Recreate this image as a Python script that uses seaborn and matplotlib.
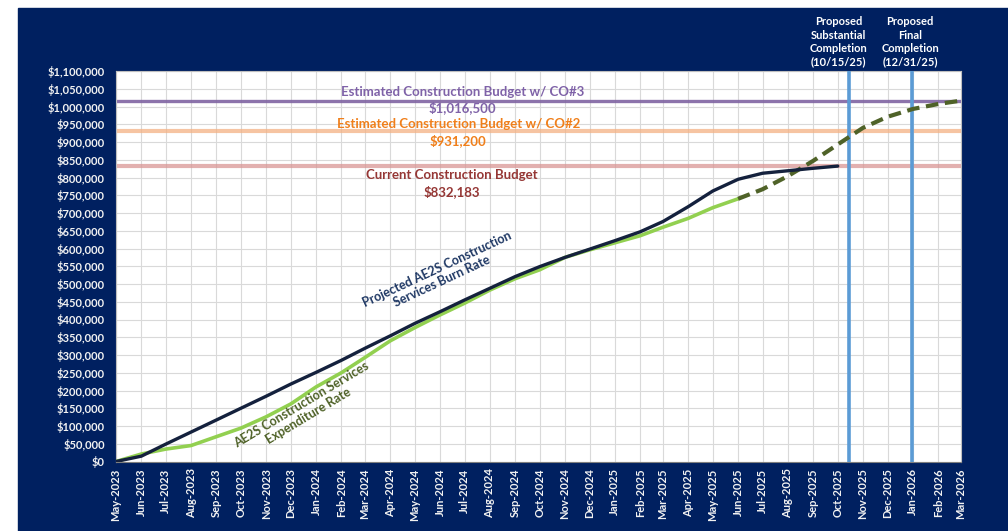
import pandas as pd
import matplotlib.pyplot as plt
import matplotlib.ticker as mticker
import matplotlib.dates as mdates
from matplotlib.patches import Rectangle
import seaborn as sns

# month axis (May-2023 .. Mar-2026)
months = pd.date_range("2023-05-01", "2026-03-01", freq="MS")

# Projected AE2S burn rate (May-2023 .. Oct-2025)
burn_rate = [0, 15000, 49000, 83000, 117000, 150000, 184000, 218000, 251000, 285000,
             319000, 354000, 389000, 422000, 455000, 488000, 521000, 549000, 575000, 598000,
             622000, 647000, 676000, 718000, 762000, 795000, 812000, 819000, 826000, 832183]

# actual expenditure (May-2023 .. Jun-2025)
expenditure = [0, 21000, 35000, 45000, 70000, 94000, 126000, 162000, 210000, 250000,
               293000, 340000, 377000, 413000, 446000, 483000, 515000, 540000, 575000, 596000,
               616000, 636000, 660000, 685000, 715000, 740000]

# projected expenditure (Jun-2025 .. Mar-2026)
projected = [740000, 767000, 804000, 847000, 893000, 940000, 971000, 993000, 1007000, 1016500]

budget_values = [1016500, 931200, 832183]
budget_names = ["Estimated Construction Budget w/ CO#3",
                "Estimated Construction Budget w/ CO#2",
                "Current Construction Budget"]
budget_line_colors = ["#8064a2", "#f4b183", "#d99694"]
budget_text_colors = ["#7f62a8", "#f07f1a", "#953735"]

milestones = pd.to_datetime(["2025-10-15", "2025-12-31"])
milestone_labels = ["Proposed\nSubstantial\nCompletion\n(10/15/25)",
                    "Proposed\nFinal\nCompletion\n(12/31/25)"]

sns.set_theme(style="whitegrid")
plt.rcParams["font.family"] = ["Lato", "DejaVu Sans"]

navy = "#002060"
fig = plt.figure(figsize=(10.08, 5.31), dpi=100, facecolor="white")
fig.patches.append(Rectangle((18 / 1008, 0), 1, 523 / 531, transform=fig.transFigure,
                             color=navy, zorder=-10))
ax = fig.add_axes([116 / 1008, 69.5 / 531, 845 / 1008, 390.5 / 531])
ax.set_facecolor("white")

# budget lines
for val, lc in zip(budget_values, budget_line_colors):
    ax.axhline(val, color=lc, lw=2.4 if lc == "#8064a2" else 3,
               alpha=0.9 if lc == "#8064a2" else 0.75, zorder=2)

# milestone lines
for m in milestones:
    ax.axvline(m, color="#5b9bd5", lw=2.6, zorder=3)

sns.lineplot(x=months[:len(expenditure)], y=expenditure, ax=ax, color="#92d050", lw=2.6, zorder=4)
sns.lineplot(x=months[len(expenditure) - 1:], y=projected, ax=ax, color="#4f6228", lw=3,
             zorder=4, linestyle=(0, (3, 1.6)))
sns.lineplot(x=months[:len(burn_rate)], y=burn_rate, ax=ax, color="#14213d", lw=2.4, zorder=5)

ax.set_xlim(months[0], months[-1])
ax.set_ylim(0, 1100000)
ax.yaxis.set_major_locator(mticker.MultipleLocator(50000))
ax.yaxis.set_major_formatter(mticker.StrMethodFormatter("${x:,.0f}"))
ax.xaxis.set_major_locator(mdates.MonthLocator())
ax.xaxis.set_major_formatter(mdates.DateFormatter("%b-%Y"))
ax.grid(True, color="#d9d9d9", lw=0.8)
ax.set_xlabel("")
ax.set_ylabel("")
for s in ax.spines.values():
    s.set_color("#bfbfbf")
    s.set_linewidth(0.8)
ax.spines["bottom"].set_color("#7f7f7f")

ax.tick_params(axis="y", colors="white", labelsize=8, pad=8, length=0)
ax.tick_params(axis="x", colors="white", labelsize=8, pad=5, length=0, rotation=90)
for lbl in ax.get_xticklabels() + ax.get_yticklabels():
    lbl.set_fontweight("bold")
    lbl.set_color("#f2f2f2")

# budget annotations
label_pos = [(0.410, 0.946, 0.905), (0.405, 0.864, 0.821), (0.397, 0.734, 0.690)]
for (xf, y1, y2), name, val, tc in zip(label_pos, budget_names, budget_values, budget_text_colors):
    ax.text(xf, y1, name, transform=ax.transAxes, ha="center", va="center",
            color=tc, fontsize=9.5, fontweight="bold", zorder=6)
    ax.text(xf, y2, f"${val:,.0f}", transform=ax.transAxes, ha="center", va="center",
            color=tc, fontsize=9.5, fontweight="bold", zorder=6)

# series annotations
ax.text(0.383, 0.478, "Projected AE2S Construction\nServices Burn Rate", transform=ax.transAxes,
        ha="center", va="center", rotation=25, color="#1f3864", fontsize=9,
        fontweight="bold", linespacing=1.1, zorder=6)
ax.text(0.224, 0.132, "AE2S Construction Services\nExpenditure Rate", transform=ax.transAxes,
        ha="center", va="center", rotation=31, color="#4f6228", fontsize=9,
        fontweight="bold", linespacing=1.1, zorder=6)

# milestone annotations
for xf, txt in zip([0.855, 0.940], milestone_labels):
    ax.text(xf, 1.010, txt, transform=ax.transAxes, ha="center", va="bottom",
            color="white", fontsize=8, fontweight="bold", linespacing=1.25)

fig.savefig("out.png", dpi=100, facecolor=fig.get_facecolor())
